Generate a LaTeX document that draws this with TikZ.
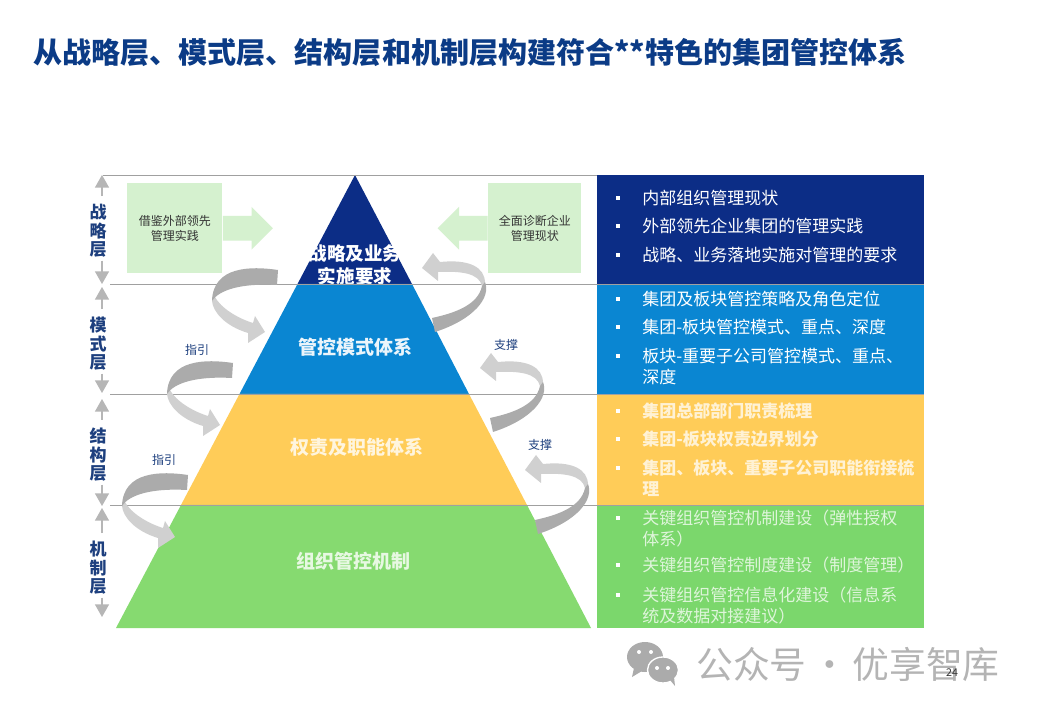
\documentclass[tikz,border=0pt]{standalone}
\usepackage{fontspec}
\setmainfont{Noto Sans CJK SC}
\usetikzlibrary{arrows.meta,positioning,shapes.arrows}
\definecolor{Navy}{HTML}{0C2D86}
\definecolor{TitleBlue}{HTML}{0B3B86}
\definecolor{SideBlue}{HTML}{1D3F7E}
\definecolor{Sky}{HTML}{0A86D2}
\definecolor{Amber}{HTML}{FFCC58}
\definecolor{Leaf}{HTML}{86DA70}
\definecolor{LeafPanel}{HTML}{7BD76C}
\definecolor{Mint}{HTML}{D5F1CF}
\definecolor{RuleGray}{HTML}{A0A0A0}
\definecolor{SideGray}{HTML}{B6B6B6}
\definecolor{TurnDark}{HTML}{ABABAB}
\definecolor{TurnLite}{HTML}{D0D0D0}
\definecolor{MarkGray}{HTML}{ABABAB}
\tikzset{
  mintbox/.style={fill=Mint, inner sep=0pt, align=center, minimum height=67.5pt,
              font=\fontsize{9}{11.25}\selectfont, text=black!80},
  mintarrow/.style={single arrow, fill=Mint, inner sep=9pt, minimum height=37.5pt,
              single arrow head extend=6.75pt, anchor=west},
  panel/.style={anchor=north west, inner sep=0pt, minimum width=245.25pt},
  layer/.style={inner sep=0pt, align=center, font=\fontsize{14.25}{17.25}\selectfont\bfseries},
  item/.style={anchor=north west, inner sep=0pt, align=left, text=white,
              font=\fontsize{12.75}{15.75}\selectfont},
  itembold/.style={item, text=Amber!25!white, font=\fontsize{12.75}{15.75}\selectfont\bfseries},
  itemsoft/.style={item, text=LeafPanel!25!white},
  bullet/.style={fill=white, inner sep=0pt, minimum size=3pt},
  side/.style={inner sep=0pt, align=center, text=SideBlue,
              font=\fontsize{12.75}{13.9}\selectfont\bfseries},
  sidearrow/.style={-{Triangle[length=9.5pt,width=10.5pt]}, line width=1.1pt, draw=SideGray},
  rule/.style={draw=RuleGray, line width=0.6pt},
  tag/.style={inner sep=0pt, text=SideBlue, font=\fontsize{9}{11}\selectfont},
  guidearrow/.pic={
    \fill[TurnLite] (-1,1) .. controls (0,12) and (12,26) .. (35,33) -- (35,43) -- (52,32)
      -- (42,16) -- (40,23) .. controls (24,18) and (8,8) .. (2,-3) -- cycle;
    \fill[TurnDark] (65,-30) .. controls (38,-34) and (0,-34) .. (-1,1)
      .. controls (6,-10) and (28,-17) .. (64,-15) -- cycle;
  },
  backarrow/.pic={
    \fill[TurnLite] (0,0) .. controls (0,-16) and (-16,-24) .. (-45,-21) -- (-52,-30)
      -- (-63,-15) -- (-47,-2) -- (-47,-11) .. controls (-24,-12) and (-6,-10) .. (-3,3) -- cycle;
    \fill[TurnDark] (0,-1) .. controls (6,14) and (-10,36) .. (-50,49) -- (-53,35)
      .. controls (-30,30) and (-7,22) .. (-3,3) -- cycle;
  },
}
\newcommand{\panelitem}[4]{
  \node[bullet] (#1b) at (618,#2) {};
  \node[#3] (#1) at (642,#2-8.5) {#4};
}
\begin{document}
\begin{tikzpicture}[x=0.75pt,y=-0.75pt]
  \useasboundingbox[fill=white] (0,0) rectangle (1040,720);
  \node[anchor=west, inner sep=0pt, text=TitleBlue, font=\fontsize{21.8}{26}\selectfont\bfseries] (title)
    at (33,52) {从战略层、模式层、结构层和机制层构建符合**特色的集团管控体系};
  % pyramid
  \fill[Navy] (355,175) -- (412,284) -- (297.5,284) -- cycle;
  \node[layer, text=white, font=\fontsize{13.9}{17.25}\selectfont\bfseries] (strategy) at (355,264.5) {战略及业务\\实施要求};
  \fill[Sky] (297.5,284) -- (412,284) -- (469,394) -- (239.5,394) -- cycle;
  \fill[Amber] (239.5,394) -- (469,394) -- (527,505) -- (181,505) -- cycle;
  \fill[Leaf] (181,505) -- (527,505) -- (591,628) -- (116,628) -- cycle;
  \node[layer, text=white!92!Sky] (mode) at (355,347) {管控模式体系};
  \node[layer, text=Amber!20!white] (duty) at (357,447) {权责及职能体系};
  \node[layer, text=Leaf!20!white] (mech) at (353,561) {组织管控机制};
  % right panels
  \node[panel, fill=Navy, minimum height=81.75pt] (panelone) at (597,175) {};
  \node[panel, fill=Sky, minimum height=82.5pt] (paneltwo) at (597,284) {};
  \node[panel, fill=Amber, minimum height=83.25pt] (panelthree) at (597,394) {};
  \node[panel, fill=LeafPanel, minimum height=92.25pt] (panelfour) at (597,505) {};
  % level rules
  \draw[rule] (103,175) -- (597,175);
  \draw[rule] (110,284) -- (924,284);
  \draw[rule] (110,394) -- (924,394);
  \draw[rule] (110,505) -- (924,505);
  \panelitem{ia}{198}{item}{内部组织管理现状}
  \panelitem{ib}{226}{item}{外部领先企业集团的管理实践}
  \panelitem{ic}{255}{item}{战略、业务落地实施对管理的要求}
  \panelitem{id}{299}{item}{集团及板块管控策略及角色定位}
  \panelitem{ie}{327}{item}{集团-板块管控模式、重点、深度}
  \panelitem{if}{356}{item}{板块-重要子公司管控模式、重点、\\深度}
  \panelitem{ig}{411}{itembold}{集团总部部门职责梳理}
  \panelitem{ih}{439}{itembold}{集团-板块权责边界划分}
  \panelitem{ii}{468}{itembold}{集团、板块、重要子公司职能衔接梳\\理}
  \panelitem{ij}{518}{itemsoft}{关键组织管控机制建设（弹性授权\\体系）}
  \panelitem{ik}{565}{itemsoft}{关键组织管控制度建设（制度管理）}
  \panelitem{il}{595}{itemsoft}{关键组织管控信息化建设（信息系\\统及数据对接建议）}
  % mint boxes
  \node[mintbox, anchor=north west, minimum width=71.25pt] (outer) at (127,183) {借鉴外部领先\\管理实践};
  \node[mintbox, anchor=north west, minimum width=69.75pt] (inner) at (488,183) {全面诊断企业\\管理现状};
  \node[mintarrow] (outerarrow) at (outer.east) {};
  \node[mintarrow, shape border rotate=180, anchor=east] (innerarrow) at (inner.west) {};
  % turning arrows
  \pic (gone) at (213,300) {guidearrow};
  \pic (gtwo) at (168,393) {guidearrow};
  \pic (gthree) at (123,505) {guidearrow};
  \pic (bone) at (485,283) {backarrow};
  \pic (btwo) at (543,383) {backarrow};
  \pic (bthree) at (588,485) {backarrow};
  \node[tag] (guideone) at (197,350) {指引};
  \node[tag] (guidetwo) at (164,460) {指引};
  \node[tag] (backone) at (506,345) {支撑};
  \node[tag] (backtwo) at (540,445) {支撑};
  % side labels
  \node[side] (lone) at (98,231) {战\\略\\层};
  \node[side] (ltwo) at (98,344) {模\\式\\层};
  \node[side] (lthree) at (98,455) {结\\构\\层};
  \node[side] (lfour) at (98,568) {机\\制\\层};
  \coordinate (ta) at (102,175); \coordinate (tb) at (102,284);
  \coordinate (tc) at (102,287); \coordinate (td) at (102,393);
  \coordinate (te) at (102,399); \coordinate (tf) at (102,506);
  \coordinate (tg) at (102,508); \coordinate (th) at (102,617);
  \draw[sidearrow, shorten <=6pt] (lone.north -| ta) -- (ta);
  \draw[sidearrow, shorten <=2pt] (lone.south -| tb) -- (tb);
  \draw[sidearrow, shorten <=6pt] (ltwo.north -| tc) -- (tc);
  \draw[sidearrow, shorten <=2pt] (ltwo.south -| td) -- (td);
  \draw[sidearrow, shorten <=6pt] (lthree.north -| te) -- (te);
  \draw[sidearrow, shorten <=2pt] (lthree.south -| tf) -- (tf);
  \draw[sidearrow, shorten <=6pt] (lfour.north -| tg) -- (tg);
  \draw[sidearrow, shorten <=2pt] (lfour.south -| th) -- (th);
  % watermark
  \fill[MarkGray] (645,657) ellipse (18 and 15);
  \fill[MarkGray] (634,668) -- (632,677) -- (642,671) -- cycle;
  \filldraw[MarkGray, draw=white, line width=1pt] (663,670) ellipse (15.5 and 13);
  \fill[MarkGray] (670,680) -- (675,686) -- (674,677) -- cycle;
  \foreach \ex/\ey in {639/652,651/652,657/668,668/668}
    \fill[white] (\ex,\ey) circle (2);
  \node[anchor=west, inner sep=0pt, text=MarkGray!90!white, font=\fontsize{27.6}{32}\selectfont] (mark)
    at (696,664) {公众号\hspace{3.4pt}·\hspace{3.4pt}优享智库};
  \node[inner sep=0pt, text=black!80, font=\fontsize{8}{10}\selectfont] (pageno) at (952,673) {24};
\end{tikzpicture}
\end{document}
